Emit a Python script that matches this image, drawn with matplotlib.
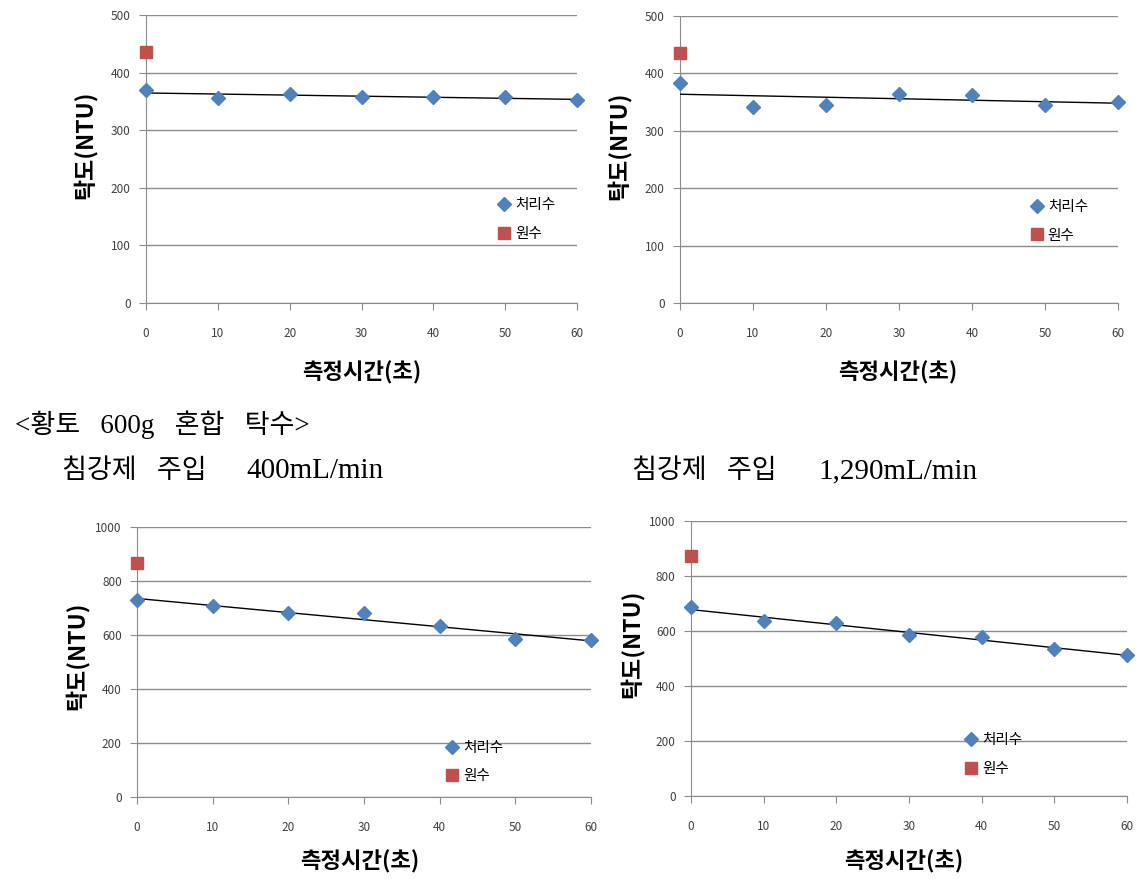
import numpy as np
import matplotlib
matplotlib.use('Agg')
import matplotlib.pyplot as plt

plt.rcParams['font.family'] = ['Noto Sans CJK KR', 'DejaVu Sans']

times = [0, 10, 20, 30, 40, 50, 60]

# treated water turbidity (NTU) for each panel
treated_tl = [370, 355, 362, 358, 358, 358, 352]
treated_tr = [383, 341, 345, 365, 363, 345, 350]
treated_bl = [730, 706, 681, 681, 632, 586, 582]
treated_br = [686, 636, 629, 587, 578, 533, 513]

# raw water turbidity at t=0
raw_tl = 436
raw_tr = 436
raw_bl = 866
raw_br = 873

ymax_top = 500
ymax_bottom = 1000

W, H = 1142, 880


def fig_xy(px, py):
    return px / W, 1 - py / H


panels = [
    # rect, treated, raw, ymax, ystep, legend anchor, ylabel pos (px), xlabel pos (px)
    ([0.1278, 0.6557, 0.3775, 0.3273], treated_tl, raw_tl, ymax_top, 100, (0.80, 0.29), (85, 145), (362, 373)),
    ([0.5954, 0.6557, 0.3835, 0.3260], treated_tr, raw_tr, ymax_top, 100, (0.785, 0.285), (619, 146), (898, 373)),
    ([0.1200, 0.0943, 0.3975, 0.3068], treated_bl, raw_bl, ymax_bottom, 200, (0.666, 0.13), (77, 656), (360, 862)),
    ([0.6051, 0.0955, 0.3818, 0.3125], treated_br, raw_br, ymax_bottom, 200, (0.612, 0.15), (632, 644), (904, 862)),
]

blue = '#4F81BD'
red = '#C0504D'
grid_c = '#8C8C8C'

fig = plt.figure(figsize=(11.42, 8.8), dpi=100)

for rect, treated, raw, ymax, ystep, anchor, ylab, xlab in panels:
    ax = fig.add_axes(rect)
    ax.set_xlim(0, 60)
    ax.set_ylim(0, ymax)
    ax.set_yticks(np.arange(0, ymax + 1, ystep))
    ax.set_xticks(times)
    ax.grid(axis='y', color=grid_c, linewidth=1)
    ax.set_axisbelow(True)
    for s in ['top', 'right']:
        ax.spines[s].set_visible(False)
    for s in ['left', 'bottom']:
        ax.spines[s].set_color(grid_c)
    ax.tick_params(axis='both', colors=grid_c, labelcolor='#404040', labelsize=8.5, length=5)
    ax.tick_params(axis='x', pad=12)
    ax.tick_params(axis='y', pad=6)

    # linear trend line
    k, b = np.polyfit(times, treated, 1)
    xs = np.array([0, 60])
    ax.plot(xs, k * xs + b, color='black', linewidth=1, zorder=3)

    ax.plot(times, treated, linestyle='none', marker='D', markersize=7,
            color=blue, label='처리수', zorder=4, clip_on=False)
    ax.plot([0], [raw], linestyle='none', marker='s', markersize=8,
            color=red, label='원수', zorder=4, clip_on=False)

    ax.legend(loc='center left', bbox_to_anchor=anchor, frameon=False,
              fontsize=10.5, handlelength=0.8, handletextpad=0.35,
              borderpad=0, labelspacing=1.0)

    ax.set_ylabel('탁도(NTU)', fontsize=16.5, fontweight='bold')
    ax.yaxis.label.set_verticalalignment('center')
    ax.yaxis.set_label_coords(*fig_xy(*ylab), transform=fig.transFigure)
    ax.set_xlabel('측정시간(초)', fontsize=16, fontweight='bold')
    ax.xaxis.label.set_verticalalignment('center')
    ax.xaxis.set_label_coords(*fig_xy(*xlab), transform=fig.transFigure)

serif = ['Liberation Serif', 'Noto Sans CJK KR']
fig.text(*fig_xy(15, 425), '<황토   600g   혼합   탁수>', fontsize=19.5, family=serif, va='center')
fig.text(*fig_xy(62, 471), '침강제   주입', fontsize=19.5, family=serif, va='center')
fig.text(*fig_xy(246, 471), '400mL/min', fontsize=21, family=serif, va='center')
fig.text(*fig_xy(632, 471), '침강제   주입', fontsize=19.5, family=serif, va='center')
fig.text(*fig_xy(818, 471), '1,290mL/min', fontsize=21, family=serif, va='center')

fig.savefig('out.png', dpi=100)
